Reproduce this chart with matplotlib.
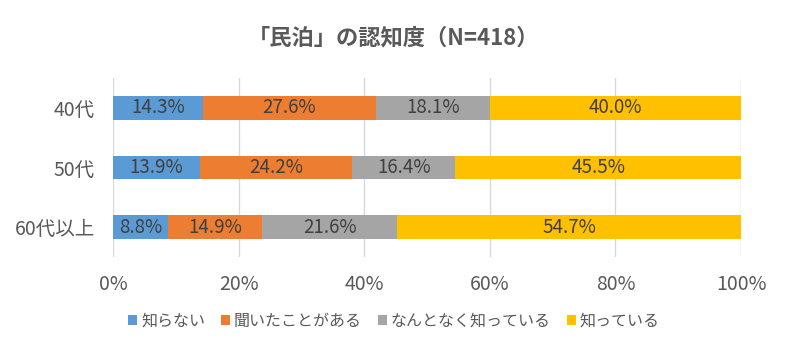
import matplotlib.pyplot as plt
import numpy as np

plt.rcParams['font.family'] = ['Noto Sans CJK JP', 'DejaVu Sans']

groups = ['40代', '50代', '60代以上']
series = ['知らない', '聞いたことがある', 'なんとなく知っている', '知っている']
values = [
    [14.3, 13.9, 8.8],   # 知らない
    [27.6, 24.2, 14.9],  # 聞いたことがある
    [18.1, 16.4, 21.6],  # なんとなく知っている
    [40.0, 45.5, 54.7],  # 知っている
]
colors = ['#5B9BD5', '#ED7D31', '#A5A5A5', '#FFC000']

fig = plt.figure(figsize=(7.88, 3.52), dpi=100)
ax = fig.add_axes([113/788, 1-257/352, (741-113)/788, (257-78)/352])

y = np.arange(len(groups))
left = np.zeros(len(groups))
for name, vals, c in zip(series, values, colors):
    vals = np.array(vals)
    ax.barh(y, vals, left=left, height=0.4, color=c, label=name, zorder=3)
    for yi, l, v in zip(y, left, vals):
        ax.text(l + v/2, yi, f'{v:.1f}%', ha='center', va='center',
                fontsize=13.5, color='#404040', zorder=4)
    left += vals

ax.set_xlim(0, 100)
ax.set_ylim(2.5, -0.5)
ax.set_yticks(y)
ax.set_yticklabels(groups)
ax.set_xticks(np.arange(0, 101, 20))
ax.set_xticklabels([f'{t}%' for t in range(0, 101, 20)])
ax.tick_params(axis='both', length=0, labelsize=14, labelcolor='#595959')
ax.tick_params(axis='x', pad=12)
ax.tick_params(axis='y', pad=13)
ax.grid(axis='x', color='#D9D9D9', linewidth=1, zorder=0)
for s in ax.spines.values():
    s.set_visible(False)

fig.text(0.5, 1-38/352, '「民泊」の認知度（N=418）', ha='center', va='center',
         fontsize=16, fontweight='bold', color='#595959')

fig.legend(loc='center', bbox_to_anchor=(0.5, 1-321/352), ncol=4, frameon=False,
           fontsize=11.5, handlelength=0.55, handleheight=0.55, handletextpad=0.25,
           columnspacing=1.0, labelcolor='#595959')

fig.savefig('out.png', dpi=100)
